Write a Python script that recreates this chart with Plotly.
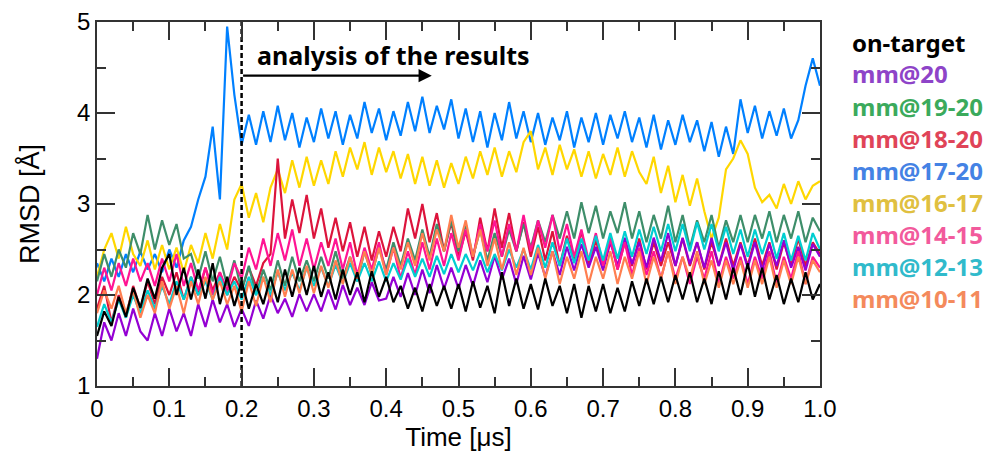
import plotly.graph_objects as go

time_us = [i / 100 for i in range(101)]

on_target = [
    1.55, 1.82, 1.66, 1.98, 1.76, 2.08, 1.86, 2.18, 1.96, 2.30,
    2.45, 2.00, 2.30, 1.95, 2.28, 1.96, 2.35, 1.90, 2.20, 1.88,
    2.15, 1.85, 2.12, 1.90, 2.20, 1.92, 2.28, 1.98, 2.30, 2.00,
    2.32, 1.98, 2.25, 1.95, 2.28, 2.00, 2.25, 1.92, 2.26, 1.98,
    2.20, 1.92, 2.10, 1.85, 2.08, 1.82, 2.12, 1.88, 2.10, 1.85,
    2.12, 1.82, 2.15, 1.86, 2.10, 1.80, 2.25, 1.88, 2.18, 1.85,
    2.12, 1.84, 2.18, 1.88, 2.10, 1.80, 2.12, 1.75, 2.10, 1.82,
    2.12, 1.80, 2.08, 1.82, 2.15, 1.88, 2.18, 1.90, 2.20, 1.92,
    2.22, 1.95, 2.25, 1.92, 2.18, 1.90, 2.26, 1.95, 2.30, 2.00,
    2.35, 1.98, 2.30, 1.95, 2.22, 1.90, 2.18, 1.92, 2.25, 1.95,
    2.12]

mm_20 = [
    1.30, 1.70, 1.50, 1.80, 1.55, 1.85, 1.60, 1.50, 1.80, 1.55,
    1.85, 1.60, 1.80, 1.55, 1.90, 1.65, 1.95, 1.70, 1.90, 1.65,
    1.85, 1.66, 1.94, 1.74, 2.00, 1.80, 1.96, 1.76, 2.01, 1.82,
    2.01, 1.82, 2.06, 1.84, 2.11, 1.89, 2.08, 1.89, 2.14, 1.94,
    1.96, 2.20, 1.98, 2.24, 2.00, 2.28, 2.02, 2.33, 2.07, 2.30,
    2.07, 2.33, 2.10, 2.38, 2.14, 2.43, 2.17, 2.40, 2.12, 2.43,
    2.17, 2.46, 2.20, 2.48, 2.22, 2.53, 2.27, 2.56, 2.30, 2.53,
    2.27, 2.58, 2.32, 2.63, 2.34, 2.58, 2.30, 2.63, 2.37, 2.68,
    2.32, 2.63, 2.34, 2.58, 2.30, 2.63, 2.32, 2.58, 2.27, 2.56,
    2.30, 2.58, 2.27, 2.56, 2.32, 2.60, 2.30, 2.53, 2.27, 2.56,
    2.42]

mm_19_20 = [
    2.15, 2.45, 2.20, 2.50, 2.30, 2.68, 2.45, 2.88, 2.50, 2.82,
    2.55, 2.78, 2.40, 2.45, 2.18, 2.48, 2.15, 2.42, 2.10, 2.38,
    2.05, 2.32, 2.00, 2.28, 2.05, 2.38, 2.10, 2.42, 2.15, 2.38,
    2.15, 2.42, 2.18, 2.48, 2.18, 2.42, 2.15, 2.48, 2.22, 2.52,
    2.28, 2.58, 2.32, 2.62, 2.38, 2.72, 2.42, 2.78, 2.48, 2.82,
    2.48, 2.78, 2.42, 2.72, 2.38, 2.68, 2.42, 2.72, 2.48, 2.78,
    2.52, 2.82, 2.58, 2.88, 2.62, 2.92, 2.62, 3.02, 2.68, 2.98,
    2.62, 2.92, 2.68, 3.02, 2.62, 2.92, 2.58, 2.88, 2.62, 2.98,
    2.58, 2.88, 2.52, 2.82, 2.58, 2.88, 2.52, 2.82, 2.58, 2.88,
    2.58, 2.88, 2.62, 2.92, 2.58, 2.88, 2.62, 2.92, 2.58, 2.85,
    2.70]

mm_18_20 = [
    1.85, 2.10, 1.70, 2.00, 1.75, 2.10, 1.85, 2.15, 1.90, 2.20,
    2.00, 2.25, 1.95, 2.20, 2.00, 2.30, 2.05, 2.25, 2.00, 2.20,
    2.05, 2.30, 2.10, 2.35, 2.45, 3.50, 2.62, 3.05, 2.68, 3.10,
    2.62, 2.95, 2.52, 2.85, 2.48, 2.80, 2.42, 2.75, 2.38, 2.70,
    2.42, 2.75, 2.48, 2.95, 2.62, 3.00, 2.58, 2.90, 2.48, 2.80,
    2.42, 2.70, 2.38, 2.85, 2.48, 2.95, 2.52, 2.90, 2.48, 2.80,
    2.42, 2.75, 2.38, 2.70, 2.32, 2.65, 2.38, 2.70, 2.32, 2.60,
    2.32, 2.62, 2.28, 2.58, 2.32, 2.62, 2.28, 2.58, 2.32, 2.58,
    2.32, 2.62, 2.32, 2.58, 2.28, 2.58, 2.32, 2.62, 2.32, 2.58,
    2.32, 2.62, 2.32, 2.58, 2.28, 2.58, 2.32, 2.62, 2.32, 2.58,
    2.45]

mm_17_20 = [
    2.35, 2.15, 2.40, 2.20, 2.45, 2.25, 2.48, 2.28, 2.45, 2.25,
    2.50, 2.30, 2.60, 2.75, 3.05, 3.30, 3.85, 3.05, 4.95, 4.20,
    3.65, 3.98, 3.65, 4.02, 3.68, 4.08, 3.70, 4.00, 3.62, 3.95,
    3.68, 4.05, 3.72, 4.02, 3.65, 3.98, 3.72, 4.12, 3.78, 4.05,
    3.70, 4.02, 3.75, 4.12, 3.80, 4.18, 3.78, 4.08, 3.82, 4.15,
    3.72, 4.05, 3.68, 4.02, 3.62, 4.00, 3.70, 4.12, 3.72, 4.02,
    3.68, 4.00, 3.65, 3.95, 3.70, 4.02, 3.62, 3.95, 3.68, 4.00,
    3.65, 3.98, 3.72, 4.02, 3.68, 3.95, 3.62, 3.98, 3.60, 3.92,
    3.65, 3.98, 3.68, 3.92, 3.58, 3.90, 3.52, 3.85, 3.55, 4.15,
    3.78, 4.08, 3.72, 4.02, 3.75, 4.05, 3.72, 3.92, 4.30, 4.60,
    4.30]

mm_16_17 = [
    2.20, 2.50, 2.68, 2.40, 2.75, 2.45, 2.32, 2.60, 2.28, 2.55,
    2.28, 2.52, 2.25, 2.55, 2.35, 2.68, 2.40, 2.78, 2.50, 3.05,
    3.22, 2.85, 3.12, 2.80, 3.18, 3.38, 3.12, 3.48, 3.18, 3.52,
    3.20, 3.48, 3.22, 3.58, 3.30, 3.62, 3.38, 3.68, 3.32, 3.62,
    3.35, 3.58, 3.28, 3.55, 3.22, 3.52, 3.20, 3.48, 3.18, 3.45,
    3.22, 3.52, 3.28, 3.58, 3.32, 3.62, 3.30, 3.58, 3.35, 3.68,
    3.80, 3.38, 3.62, 3.32, 3.65, 3.38, 3.60, 3.30, 3.58, 3.28,
    3.55, 3.32, 3.62, 3.30, 3.58, 3.35, 3.22, 3.52, 3.12, 3.42,
    3.02, 3.32, 2.98, 3.28, 2.92, 2.62, 2.85, 3.38, 3.50, 3.70,
    3.55, 3.18, 3.02, 3.10, 2.95, 3.22, 3.00, 3.25, 3.05, 3.20,
    3.25]

mm_14_15 = [
    2.00, 2.30, 2.05, 2.35, 2.10, 2.40, 2.15, 2.35, 2.10, 2.40,
    2.15, 2.45, 2.10, 2.35, 2.05, 2.30, 2.00, 2.25, 2.05, 2.35,
    2.18, 2.52, 2.28, 2.62, 2.32, 2.68, 2.38, 2.72, 2.32, 2.62,
    2.28, 2.58, 2.32, 2.62, 2.28, 2.58, 2.22, 2.52, 2.28, 2.58,
    2.22, 2.52, 2.18, 2.48, 2.22, 2.58, 2.28, 2.62, 2.32, 2.68,
    2.38, 2.72, 2.42, 2.78, 2.48, 2.82, 2.42, 2.78, 2.48, 2.88,
    2.48, 2.82, 2.52, 2.88, 2.48, 2.78, 2.42, 2.72, 2.38, 2.68,
    2.32, 2.62, 2.28, 2.58, 2.22, 2.52, 2.22, 2.48, 2.18, 2.48,
    2.18, 2.42, 2.12, 2.42, 2.18, 2.48, 2.12, 2.42, 2.18, 2.42,
    2.12, 2.42, 2.18, 2.48, 2.12, 2.42, 2.18, 2.48, 2.12, 2.42,
    2.30]

mm_12_13 = [
    1.65, 1.90, 1.70, 1.95, 1.75, 2.00, 1.80, 2.05, 1.85, 2.10,
    1.90, 2.15, 1.95, 2.20, 2.00, 2.15, 1.95, 2.20, 2.00, 2.15,
    1.95, 2.20, 2.00, 2.20, 2.00, 2.25, 2.05, 2.25, 2.05, 2.30,
    2.10, 2.30, 2.10, 2.33, 2.13, 2.35, 2.15, 2.35, 2.15, 2.37,
    2.15, 2.35, 2.17, 2.40, 2.20, 2.40, 2.20, 2.43, 2.23, 2.45,
    2.25, 2.45, 2.27, 2.47, 2.25, 2.45, 2.27, 2.50, 2.30, 2.50,
    2.28, 2.55, 2.30, 2.58, 2.32, 2.62, 2.35, 2.62, 2.38, 2.65,
    2.38, 2.68, 2.40, 2.70, 2.42, 2.72, 2.45, 2.75, 2.48, 2.78,
    2.48, 2.78, 2.48, 2.80, 2.50, 2.78, 2.48, 2.75, 2.45, 2.72,
    2.42, 2.72, 2.45, 2.70, 2.40, 2.68, 2.38, 2.65, 2.38, 2.68,
    2.50]

mm_10_11 = [
    1.80, 2.05, 1.85, 2.10, 1.80, 2.05, 1.75, 2.00, 1.80, 2.15,
    1.85, 2.10, 1.80, 2.15, 1.90, 2.20, 1.95, 2.15, 1.90, 2.10,
    1.82, 2.15, 1.88, 2.20, 1.92, 2.28, 1.98, 2.28, 2.02, 2.32,
    2.02, 2.32, 2.08, 2.38, 2.12, 2.42, 2.18, 2.48, 2.22, 2.52,
    2.22, 2.52, 2.28, 2.58, 2.32, 2.68, 2.38, 2.72, 2.48, 2.88,
    2.52, 2.82, 2.42, 2.72, 2.32, 2.62, 2.28, 2.58, 2.22, 2.52,
    2.22, 2.52, 2.18, 2.48, 2.12, 2.42, 2.18, 2.48, 2.12, 2.42,
    2.18, 2.48, 2.12, 2.42, 2.18, 2.48, 2.12, 2.42, 2.18, 2.48,
    2.12, 2.42, 2.18, 2.48, 2.12, 2.38, 2.08, 2.38, 2.12, 2.38,
    2.08, 2.38, 2.12, 2.42, 2.08, 2.38, 2.12, 2.42, 2.12, 2.38,
    2.25]

# (label, values, line colour, legend text colour) in drawing order
series = [
    ("mm@17-20", mm_17_20, "#0080FF", "#4482E4"),
    ("mm@16-17", mm_16_17, "#FFD700", "#E0C040"),
    ("mm@18-20", mm_18_20, "#DC143C", "#E04458"),
    ("mm@19-20", mm_19_20, "#3E8E6A", "#3BAA5C"),
    ("mm@20", mm_20, "#9400D3", "#8E44C8"),
    ("mm@14-15", mm_14_15, "#FF1493", "#F25A9C"),
    ("mm@12-13", mm_12_13, "#00CED1", "#30BACB"),
    ("mm@10-11", mm_10_11, "#FF7F50", "#F48A5C"),
    ("on-target", on_target, "#000000", "#000000"),
]
legend_order = ["on-target", "mm@20", "mm@19-20", "mm@18-20", "mm@17-20",
                "mm@16-17", "mm@14-15", "mm@12-13", "mm@10-11"]

fig = go.Figure()
for name, vals, col, _ in series:
    fig.add_trace(go.Scatter(x=time_us, y=vals, mode="lines", name=name,
                             line=dict(color=col, width=2.2), showlegend=False))

# dashed marker line at 0.2 us
fig.add_trace(go.Scatter(x=[0.2, 0.2], y=[1, 5], mode="lines", showlegend=False,
                         line=dict(color="black", width=2.5, dash="5px,3px")))

annotations = []
text_col = {s[0]: s[3] for s in series}
for i, name in enumerate(legend_order):
    annotations.append(dict(
        xref="paper", yref="paper", x=1.0415, y=1 - (20 + 32 * i) / 364,
        xanchor="left", yanchor="middle", showarrow=False,
        text=f"<b>{name}</b>",
        font=dict(family="Noto Sans, Lato, sans-serif", size=24, color=text_col[name])))

annotations.append(dict(
    x=0.219, y=4.64, xref="x", yref="y", xanchor="left", yanchor="middle",
    showarrow=False, text="<b>analysis of the results</b>",
    font=dict(family="Noto Sans, Lato, sans-serif", size=25, color="black")))
annotations.append(dict(
    x=0.463, y=4.41, ax=0.2, ay=4.41, xref="x", yref="y", axref="x", ayref="y",
    text="", showarrow=True, arrowhead=2, arrowsize=1.2, arrowwidth=2.2,
    arrowcolor="black"))

axis_common = dict(
    showline=True, linecolor="#333333", linewidth=1.5, mirror="allticks",
    ticks="inside", ticklen=18, tickwidth=1.5, tickcolor="#333333",
    showgrid=False, zeroline=False, automargin=False,
    tickfont=dict(family="Liberation Sans, Arial, sans-serif", size=24, color="black"),
)

fig.update_layout(
    width=985, height=444,
    margin=dict(l=89, r=173, t=14, b=66),
    plot_bgcolor="white", paper_bgcolor="white",
    xaxis=dict(range=[0, 1], tickvals=[0, 0.1, 0.2, 0.3, 0.4, 0.5, 0.6, 0.7, 0.8, 0.9, 1.0],
               ticktext=["0", "0.1", "0.2", "0.3", "0.4", "0.5", "0.6", "0.7", "0.8", "0.9", "1.0"],
               minor=dict(dtick=0.05, ticks="inside", ticklen=9, tickwidth=1.5, tickcolor="#333333"),
               title=dict(text="Time [μs]", standoff=10,
                          font=dict(family="Liberation Sans, Arial, sans-serif", size=26, color="black")),
               **axis_common),
    yaxis=dict(range=[1, 5], tickvals=[1, 2, 3, 4, 5],
               minor=dict(dtick=0.5, ticks="inside", ticklen=9, tickwidth=1.5, tickcolor="#333333"),
               title=dict(text="RMSD [Å]", standoff=30,
                          font=dict(family="Liberation Sans, Arial, sans-serif", size=27, color="black")),
               **axis_common),
    annotations=annotations,
)

fig.write_html("out.html")
